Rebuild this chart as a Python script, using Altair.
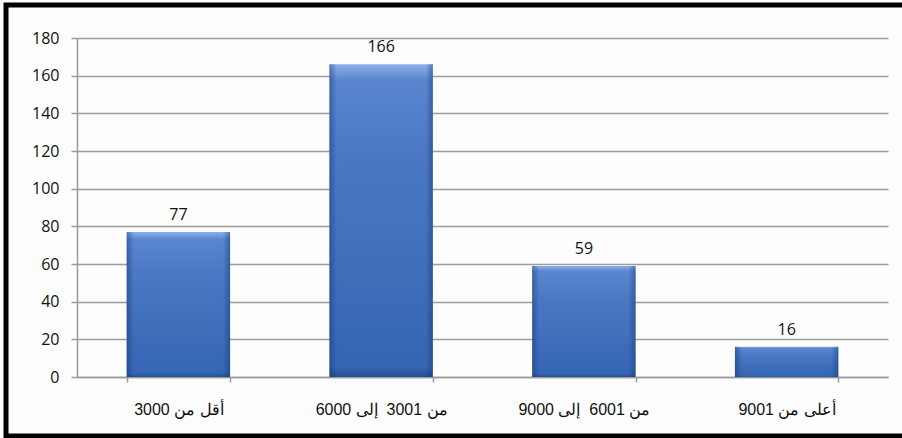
import altair as alt
import pandas as pd

categories = ["أقل من 3000", "من 3001\u00a0 إلى 6000", "من 6001\u00a0 إلى 9000", "أعلى من 9001"]
values = [77, 166, 59, 16]
y_ticks = [0, 20, 40, 60, 80, 100, 120, 140, 160, 180]

df = pd.DataFrame({"cat": categories, "val": values})

W, H = 811, 339
PAD_L, PAD_T = 77, 38

x_enc = alt.X(
    "cat:N",
    sort=categories,
    title=None,
    scale=alt.Scale(paddingInner=0.49, paddingOuter=0.245),
    axis=alt.Axis(
        labelAngle=0,
        labelFont="Liberation Sans",
        labelFontSize=16,
        labelColor="#111111",
        labelPadding=19,
        tickBand="extent",
        tickSize=5,
        tickColor="#9a9a9a",
        tickWidth=1.5,
        domainColor="#9a9a9a",
        domainWidth=1.5,
        grid=False,
    ),
)
y_enc = alt.Y(
    "val:Q",
    title=None,
    scale=alt.Scale(domain=[0, 180], nice=False),
    axis=alt.Axis(
        values=y_ticks,
        labelFont="Open Sans",
        labelFontSize=16,
        labelColor="#111111",
        labelPadding=12,
        tickSize=6,
        tickColor="#9a9a9a",
        tickWidth=1.5,
        domainColor="#9a9a9a",
        domainWidth=1.5,
        grid=True,
        gridColor="#9c9c9c",
        gridWidth=1.5,
    ),
)

base = alt.Chart(df)

bars = base.mark_bar(
    color=alt.Gradient(
        gradient="linear",
        x1=0, x2=0, y1=0, y2=1,
        stops=[
            alt.GradientStop(color="#8cb0ea", offset=0),
            alt.GradientStop(color="#5a86d0", offset=0.05),
            alt.GradientStop(color="#4a78c4", offset=0.3),
            alt.GradientStop(color="#3566b3", offset=0.97),
            alt.GradientStop(color="#244f94", offset=1),
        ],
    )
).encode(x=x_enc, y=y_enc)

edges = base.mark_bar(
    color=alt.Gradient(
        gradient="linear",
        x1=0, x2=1, y1=0, y2=0,
        stops=[
            alt.GradientStop(color="rgba(20,50,110,0.45)", offset=0),
            alt.GradientStop(color="rgba(20,50,110,0.0)", offset=0.07),
            alt.GradientStop(color="rgba(20,50,110,0.0)", offset=0.93),
            alt.GradientStop(color="rgba(20,50,110,0.45)", offset=1),
        ],
    )
).encode(x=x_enc, y=y_enc)

labels = base.mark_text(
    baseline="bottom", dy=-9, font="Open Sans", fontSize=16, color="#111111"
).encode(x=x_enc, y=y_enc, text="val:Q")

border = alt.Chart(pd.DataFrame({"a": [0]})).mark_rect(
    fill=None, stroke="black", strokeWidth=5
).encode(
    x=alt.value(6 - PAD_L),
    x2=alt.value(906 - PAD_L),
    y=alt.value(5 - PAD_T),
    y2=alt.value(436 - PAD_T),
)

chart = alt.layer(bars, edges, labels, border).properties(
    width=W,
    height=H,
    autosize=alt.AutoSizeParams(type="none"),
    padding={"left": PAD_L, "top": PAD_T, "right": 902 - PAD_L - W, "bottom": 438 - PAD_T - H},
    background="#fdfdfd",
).configure_view(stroke=None)

chart.save("out.html", embed_options={"renderer": "svg", "actions": False})
